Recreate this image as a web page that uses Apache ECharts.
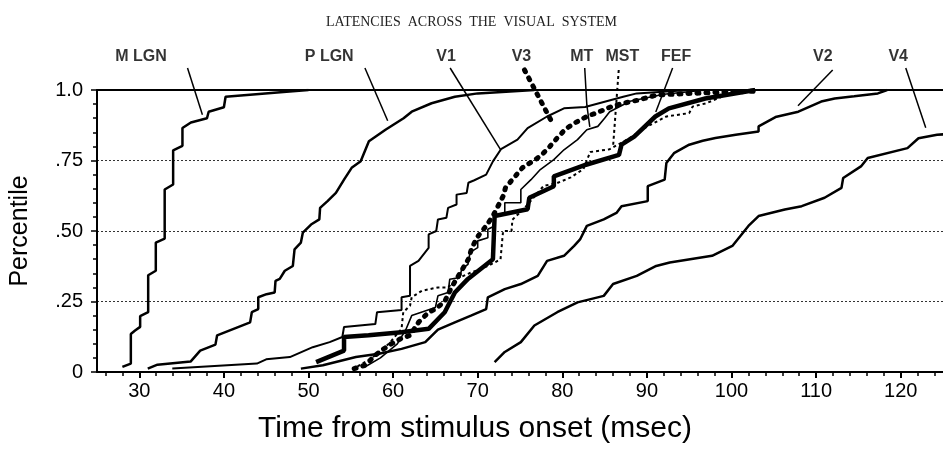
<!DOCTYPE html>
<html>
<head>
<meta charset="utf-8">
<script src="https://cdn.jsdelivr.net/npm/echarts@6/dist/echarts.min.js"></script>
<style>html,body{margin:0;padding:0;background:#fff}#c{width:943px;height:449px}</style>
</head>
<body>
<div id="c"></div>
<script>
// ---- data (x = msec, y = cumulative fraction) ----
const xMajorTicks = [30, 40, 50, 60, 70, 80, 90, 100, 110, 120];
const xMinorTicks = [26,28,32,34,36,38,42,44,46,48,52,54,56,58,62,64,66,68,72,74,76,78,82,84,86,88,92,94,96,98,102,104,106,108,112,114,116,118,122,124];
const yTickLabels = {0: '0', 0.25: '.25', 0.5: '.50', 0.75: '.75', 1: '1.0'};

const mLGN = [[28.0,.018],[29.0,.03],[29.0,.135],[29.5,.147],[30.1,.16],[30.1,.198],[31.05,.212],[31.05,.343],[31.95,.359],[31.95,.459],[33.0,.473],[33.0,.647],[34.0,.665],[34.0,.786],[35.1,.802],[35.1,.865],[36.1,.885],[38.0,.9],[38.2,.923],[40.0,.939],[40.2,.976],[47.4,.994],[50,1.0]];
const pLGN = [[31.0,.012],[32.15,.026],[36.06,.037],[37.2,.076],[39.0,.097],[39.2,.13],[43.1,.176],[43.3,.212],[44.06,.223],[44.06,.265],[45.04,.276],[46.0,.282],[46.1,.323],[46.6,.33],[47.2,.359],[48.15,.376],[48.35,.435],[49.1,.459],[49.33,.494],[50.3,.523],[51.28,.541],[51.37,.582],[52.25,.606],[53.24,.635],[54.2,.682],[55.1,.724],[56.17,.747],[57.14,.818],[59.1,.859],[61.24,.9],[62.2,.923],[64.55,.953],[67.3,.976],[70.0,.988],[76.7,1.0]];
const v1 = [[33.9,.012],[43.9,.03],[45.0,.045],[47.8,.053],[50.5,.088],[52.5,.106],[54.0,.124],[54.2,.16],[57.9,.17],[58.1,.212],[61.0,.22],[61.0,.265],[62.0,.27],[62.0,.376],[63.0,.394],[64.2,.44],[64.2,.488],[65.1,.5],[65.3,.541],[66.3,.547],[66.5,.582],[67.5,.594],[67.5,.629],[68.7,.635],[68.9,.671],[69.6,.68],[71.0,.7],[71.8,.747],[72.75,.79],[74.7,.824],[75.9,.865],[78.2,.906],[80.2,.935],[82.7,.94],[87.2,.976],[88.8,.988],[95,1.0]];
const v2 = [[49.1,.012],[51.7,.024],[55.6,.053],[58.3,.065],[61.0,.082],[63.8,.106],[65.3,.15],[67.3,.176],[69.2,.2],[71.0,.223],[71.2,.265],[73.2,.294],[75.1,.312],[77.1,.341],[78.2,.394],[80.2,.412],[81.4,.447],[82.1,.47],[82.9,.518],[84.9,.541],[86.4,.564],[87.0,.588],[90.1,.606],[90.1,.659],[92.1,.682],[92.3,.741],[93.2,.776],[95.0,.806],[96.6,.82],[98.1,.83],[100.5,.841],[103.2,.853],[103.2,.871],[105.2,.904],[107.9,.923],[110.6,.959],[112.2,.97],[114.5,.978],[117.3,.988],[118.4,1.0]];
const v4 = [[72.0,.035],[73.2,.071],[75.1,.106],[76.7,.165],[79.4,.212],[81.8,.247],[84.9,.27],[86.0,.312],[88.8,.341],[91.1,.376],[92.7,.388],[97.7,.412],[100.1,.447],[102.0,.518],[103.2,.553],[106.3,.576],[108.3,.588],[111.0,.618],[113.0,.653],[113.2,.688],[115.3,.729],[116.1,.759],[120.8,.794],[122.1,.829],[124.3,.841],[126,.845]];
const fef = [[50.9,.035],[54.2,.076],[54.2,.124],[57.1,.13],[61.0,.141],[64.2,.153],[66.1,.212],[67.3,.282],[68.85,.33],[71.8,.4],[72.0,.4],[72.0,.553],[75.9,.577],[76.1,.618],[79.0,.659],[79.0,.694],[82.8,.735],[86.7,.77],[87.0,.806],[88.5,.835],[91.0,.906],[92.6,.935],[96.9,.97],[102.8,1.0]];
const v3 = [[55.4,.012],[56.75,.025],[57.9,.06],[59.5,.095],[60.9,.118],[62.0,.13],[63.0,.176],[64.2,.212],[65.0,.223],[66.1,.25],[66.9,.3],[67.9,.35],[68.9,.4],[69.3,.44],[70.0,.48],[71.0,.518],[71.8,.553],[73.0,.623],[73.3,.655],[74.1,.682],[75.3,.725],[77.1,.759],[78.2,.788],[79.4,.83],[80.4,.862],[81.6,.885],[82.9,.906],[84.3,.922],[85.8,.941],[87.2,.953],[89.1,.965],[91.1,.982],[95,.988],[99,.992],[103,.996]];
const mt = [[56.5,.015],[58.5,.05],[60.5,.1],[61.5,.15],[62.2,.2],[65.0,.229],[65.3,.27],[66.5,.282],[66.7,.329],[67.9,.335],[68.1,.365],[68.85,.382],[69.1,.424],[70.0,.441],[70.0,.465],[71.2,.476],[71.2,.506],[72.0,.518],[72.0,.553],[73.2,.565],[73.2,.6],[75.1,.6],[75.1,.647],[76.3,.682],[77.4,.718],[79.0,.753],[80.2,.788],[81.8,.824],[82.9,.859],[84.2,.871],[85.0,.9],[85.6,.923],[88,.96],[92,.985],[97,1.0]];
const mst = [[55.8,.02],[57.5,.05],[59.5,.1],[61.0,.153],[61.2,.212],[62.0,.235],[62.2,.265],[63.4,.288],[65.3,.3],[66.5,.3],[67.5,.33],[69,.35],[71.2,.376],[72.1,.39],[72.7,.4],[73.0,.5],[74.0,.5],[74.1,.54],[75.5,.58],[77.8,.66],[79.4,.67],[81.0,.69],[82.5,.72],[83.3,.78],[85.6,.79],[88,.83],[90,.87],[92.3,.906],[95,.918],[95.4,.941],[97,.953],[100,.99],[102,1.0]];

// labels above the plot: name, x (msec), y (fraction)
const labelNames = ['M LGN', 'P LGN', 'V1', 'V3', 'MT', 'MST', 'FEF', 'V2', 'V4'];
const labelX = [30.2, 52.45, 66.27, 75.17, 82.3, 87.1, 93.45, 110.8, 119.7];
const labelY = 1.118;
// pointer lines [[x1,y1],[x2,y2],...]
const pointers = [
  [[35.7,1.078],[37.46,.912]],
  [[56.67,1.078],[59.36,.891]],
  [[66.74,1.078],[72.72,.788]],
  [[75.53,1.071],[78.81,.884]],
  [[82.65,1.078],[82.9,.947],[83.25,.869]],
  [[86.67,1.071],[86.0,.799]],
  [[93.04,1.078],[91.05,.922]],
  [[111.96,1.071],[107.86,.944]],
  [[120.6,1.078],[122.96,.866]]
];

const chart = echarts.init(document.getElementById('c'), null, {renderer: 'canvas'});

const thin = (w) => ({color: '#000', width: w, type: 'solid'});
const V3STYLE = {color: '#000', width: 5, type: [2, 7], cap: 'round'};
const MSTSTYLE = {color: '#000', width: 2, type: [3, 3]};

function lineSeries(name, data, ls, z) {
  return {name, type: 'line', data, showSymbol: false, symbol: 'none', lineStyle: ls, z: z || 3, animation: false};
}
const pointerStyles = [thin(1.5), thin(1.5), thin(1.5), V3STYLE, thin(1.5), MSTSTYLE, thin(1.5), thin(1.5), thin(1.5)];

const series = [
  lineSeries('M LGN', mLGN, thin(2.5)),
  lineSeries('P LGN', pLGN, thin(2.5)),
  lineSeries('V1', v1, thin(2)),
  lineSeries('V2', v2, thin(2.5)),
  lineSeries('V4', v4, thin(2.5)),
  lineSeries('MT', mt, thin(1.6)),
  lineSeries('MST', mst, MSTSTYLE),
  lineSeries('V3', v3, V3STYLE),
  lineSeries('FEF', fef, thin(4.5), 4)
];
pointers.forEach((p, i) => {
  series.push({type: 'line', data: p, showSymbol: false, symbol: 'none', clip: false, lineStyle: pointerStyles[i], animation: false, z: 5});
});
series.push({
  type: 'scatter', clip: false, symbolSize: 0, animation: false,
  data: labelNames.map((n, i) => [labelX[i], labelY, n]),
  label: {show: true, position: 'inside', formatter: (p) => p.data[2], color: '#000', fontFamily: 'Liberation Sans, Arial', fontWeight: 'bold', fontSize: 16}
});

const axisFont = {color: '#000', fontFamily: 'Liberation Sans, Arial', fontSize: 20};
chart.setOption({
  animation: false,
  backgroundColor: '#fff',
  title: {
    text: 'LATENCIES  ACROSS  THE  VISUAL  SYSTEM', left: 'center', top: 10,
    textStyle: {fontFamily: 'Liberation Serif, Times New Roman', fontWeight: 'normal', fontSize: 14, color: '#222'}
  },
  grid: {left: 96, right: -6, top: 90, bottom: 76},
  xAxis: [{
    type: 'value', min: 25, max: 125, position: 'bottom',
    axisLine: {show: true, lineStyle: {color: '#000', width: 2}},
    axisTick: {show: true, customValues: xMajorTicks, length: 6, inside: false, lineStyle: {color: '#000', width: 2}},
    axisLabel: Object.assign({customValues: xMajorTicks, margin: 9}, axisFont),
    splitLine: {show: false},
    name: 'Time from stimulus onset (msec)', nameLocation: 'middle', nameGap: 42,
    nameTextStyle: {color: '#000', fontFamily: 'Liberation Sans, Arial', fontSize: 30, padding: [0, 90, 0, 0]}
  }, {
    type: 'value', min: 25, max: 125, position: 'bottom', gridIndex: 0,
    axisLine: {show: false},
    axisTick: {show: true, customValues: xMinorTicks, length: 4, lineStyle: {color: '#000', width: 1.5}},
    axisLabel: {show: false}, splitLine: {show: false}
  }, {
    type: 'value', min: 25, max: 125, position: 'top', gridIndex: 0,
    axisLine: {show: true, lineStyle: {color: '#000', width: 2}},
    axisTick: {show: false}, axisLabel: {show: false}, splitLine: {show: false}
  }],
  yAxis: {
    type: 'value', min: 0, max: 1, interval: 0.25,
    axisLine: {show: true, lineStyle: {color: '#000', width: 2}},
    axisTick: {show: true, length: 6, lineStyle: {color: '#000', width: 1.5}},
    minorTick: {show: true, splitNumber: 5, length: 4, lineStyle: {color: '#000', width: 1.5}},
    axisLabel: Object.assign({formatter: (v) => yTickLabels[v] !== undefined ? yTickLabels[v] : '', margin: 14}, axisFont),
    splitLine: {show: true, lineStyle: {color: '#333', width: 1, type: [2, 2]}},
    name: 'Percentile', nameLocation: 'middle', nameGap: 64, nameRotate: 90,
    nameTextStyle: {color: '#000', fontFamily: 'Liberation Sans, Arial', fontSize: 25}
  },
  series
});
</script>
</body>
</html>
